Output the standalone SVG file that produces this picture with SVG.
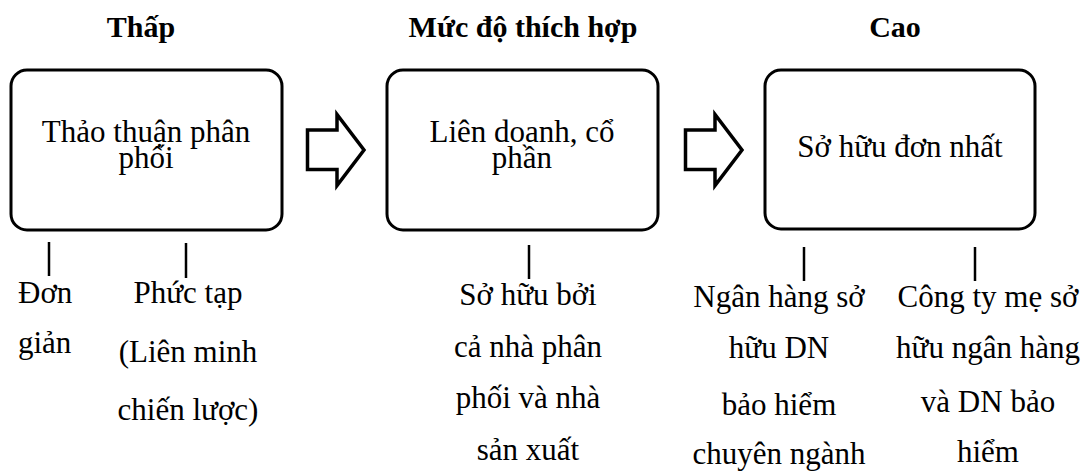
<svg xmlns="http://www.w3.org/2000/svg" width="1088" height="473" viewBox="0 0 1088 473">
  <style>
    .box { fill: #ffffff; stroke: #000000; stroke-width: 3; }
    .arrow { fill: #ffffff; stroke: #000000; stroke-width: 3.5; stroke-linejoin: miter; }
    .tick { stroke: #000000; stroke-width: 2.5; }
    .title { font-family: "Liberation Serif", "Times New Roman", serif; font-size: 30px; font-weight: bold; fill: #000; text-anchor: middle; }
    .lbl { font-family: "Liberation Serif", "Times New Roman", serif; font-size: 31px; fill: #000; text-anchor: middle; }
    .lbl-l { font-family: "Liberation Serif", "Times New Roman", serif; font-size: 31px; fill: #000; }
  </style>
  <rect width="1088" height="473" fill="#ffffff"/>

  <!-- level headings -->
  <g id="headings">
    <text class="title" x="141" y="37">Thấp</text>
    <text class="title" x="523" y="37">Mức độ thích hợp</text>
    <text class="title" x="895" y="37">Cao</text>
  </g>

  <!-- stage boxes -->
  <g id="node-distribution">
    <rect class="box" x="11" y="70" width="271" height="160" rx="16" ry="16"/>
    <text class="lbl" x="146" y="142">Thảo thuận phân</text>
    <text class="lbl" x="146" y="168">phối</text>
  </g>
  <g id="node-jointventure">
    <rect class="box" x="387" y="70" width="271" height="160" rx="16" ry="16"/>
    <text class="lbl" x="522" y="142">Liên doanh, cổ</text>
    <text class="lbl" x="522" y="168">phần</text>
  </g>
  <g id="node-ownership">
    <rect class="box" x="765" y="70" width="270" height="159" rx="16" ry="16"/>
    <text class="lbl" x="900" y="157">Sở hữu đơn nhất</text>
  </g>

  <!-- connectors: block arrows between stages and ticks to examples -->
  <g id="connectors">
    <path id="arrow-1" class="arrow" d="M307.5,130 H337 V114.5 L364,150 L337,185.5 V169.5 H307.5 Z"/>
    <path id="arrow-2" class="arrow" d="M685.5,130 H715 V114.5 L742,150 L715,185.5 V169.5 H685.5 Z"/>
    <line class="tick" x1="49" y1="242" x2="49" y2="276"/>
    <line class="tick" x1="186" y1="243" x2="186" y2="278"/>
    <line class="tick" x1="529" y1="245" x2="529" y2="279"/>
    <line class="tick" x1="804" y1="247" x2="804" y2="281"/>
    <line class="tick" x1="975" y1="247" x2="975" y2="281"/>
  </g>

  <!-- example labels under the stages -->
  <g id="note-simple">
    <text class="lbl-l" x="18" y="303">Đơn</text>
    <text class="lbl-l" x="18" y="353">giản</text>
  </g>
  <g id="note-complex">
    <text class="lbl" x="188" y="303">Phức tạp</text>
    <text class="lbl" x="188" y="362">(Liên minh</text>
    <text class="lbl" x="188" y="420">chiến lược)</text>
  </g>
  <g id="note-shared">
    <text class="lbl" x="528" y="305">Sở hữu bởi</text>
    <text class="lbl" x="528" y="357">cả nhà phân</text>
    <text class="lbl" x="528" y="408">phối và nhà</text>
    <text class="lbl" x="528" y="460">sản xuất</text>
  </g>
  <g id="note-bank">
    <text class="lbl" x="779" y="307">Ngân hàng sở</text>
    <text class="lbl" x="779" y="358">hữu DN</text>
    <text class="lbl" x="779" y="415">bảo hiểm</text>
    <text class="lbl" x="779" y="464">chuyên ngành</text>
  </g>
  <g id="note-parent">
    <text class="lbl" x="988" y="307">Công ty mẹ sở</text>
    <text class="lbl" x="988" y="358">hữu ngân hàng</text>
    <text class="lbl" x="988" y="412">và DN bảo</text>
    <text class="lbl" x="988" y="462">hiểm</text>
  </g>
</svg>
